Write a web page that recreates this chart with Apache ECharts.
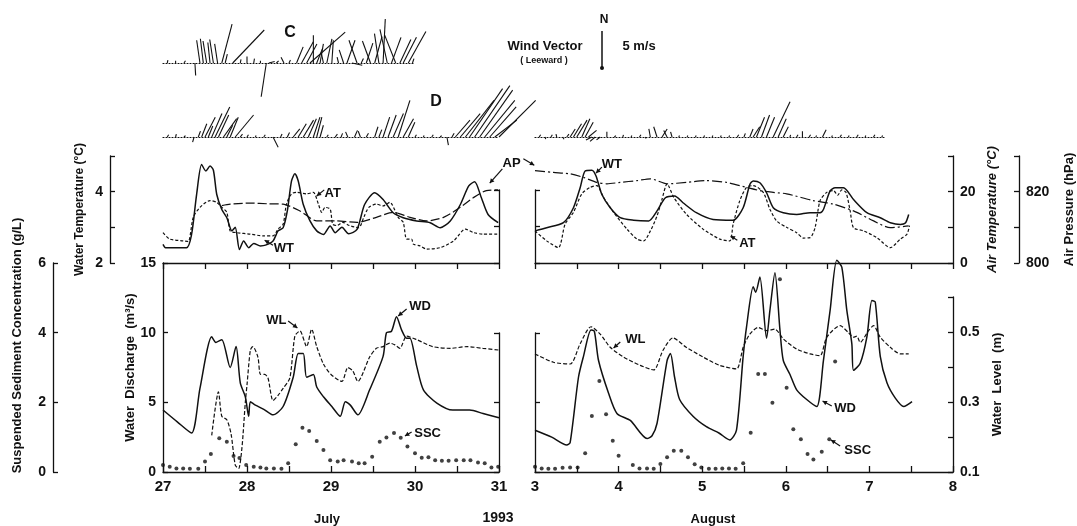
<!DOCTYPE html>
<html>
<head>
<meta charset="utf-8">
<script src="https://cdn.jsdelivr.net/npm/echarts@6/dist/echarts.min.js"></script>
<style>
  html, body { margin: 0; padding: 0; background: #fff; }
  #main { width: 1077px; height: 526px; }
</style>
</head>
<body>
<div id="main"></div>
<script>
// ---- values: [day, value] ----
// July 27-31 (top panel)
var wtJuly = [[27.0,2.52],[27.03,2.43],[27.28,2.43],[27.34,2.8],[27.40,3.92],[27.46,4.76],[27.51,4.58],[27.56,4.72],[27.60,4.6],[27.64,3.92],[27.70,3.5],[27.76,3.27],[27.82,2.9],[27.86,3.0],[27.91,2.38],[27.96,2.62],[28.02,2.43],[28.08,2.55],[28.16,2.48],[28.22,2.5],[28.31,2.62],[28.37,2.9],[28.43,2.99],[28.48,3.46],[28.53,4.3],[28.57,4.5],[28.61,4.3],[28.67,3.64],[28.75,3.18],[28.83,2.9],[28.91,2.8],[28.99,3.04],[29.05,2.85],[29.13,3.0],[29.21,2.82],[29.31,2.94],[29.40,3.64],[29.52,3.97],[29.62,3.78],[29.74,3.41],[29.86,3.27],[30.02,3.18],[30.18,3.13],[30.30,2.99],[30.42,3.18],[30.54,3.64],[30.64,4.16],[30.71,4.28],[30.79,3.83],[30.87,3.36],[30.99,3.13]];
var atJuly = [[27.0,8.5],[27.08,6.7],[27.24,6.2],[27.30,6.0],[27.36,12.8],[27.44,15.6],[27.56,17.5],[27.64,17.0],[27.70,15.6],[27.76,14.2],[27.80,9.0],[27.88,8.5],[28.04,8.1],[28.19,7.6],[28.31,7.6],[28.37,9.5],[28.43,10.9],[28.47,16.5],[28.53,19.4],[28.59,19.8],[28.71,19.4],[28.79,19.8],[28.85,16.5],[28.89,14.2],[28.93,15.6],[28.99,15.1],[29.02,10.9],[29.07,10.5],[29.14,11.4],[29.22,10.5],[29.33,9.9],[29.39,12.8],[29.45,15.6],[29.54,16.5],[29.62,16.0],[29.70,17.0],[29.80,12.8],[29.86,11.4],[29.90,6.7],[29.96,6.7],[29.98,5.3],[30.06,4.8],[30.14,3.9],[30.30,4.3],[30.46,6.2],[30.60,9.5],[30.70,8.5],[30.81,8.1],[30.99,8.1]];
var apJuly = [[27.70,816.1],[27.80,816.5],[28.04,816.8],[28.25,816.6],[28.43,816.5],[28.63,814.6],[28.83,811.8],[29.07,811.8],[29.31,811.4],[29.54,812.8],[29.74,814.2],[29.94,812.8],[30.14,811.8],[30.34,812.8],[30.54,815.6],[30.70,818.4],[30.85,820.3],[30.99,820.5]];
// August 3-8 (top panel)
var wtAug = [[3.0,2.9],[3.14,2.99],[3.34,3.13],[3.46,3.55],[3.54,4.11],[3.60,4.58],[3.68,4.6],[3.73,4.44],[3.80,3.92],[3.90,3.55],[4.02,3.27],[4.18,3.2],[4.36,3.18],[4.46,3.46],[4.56,3.83],[4.67,3.88],[4.77,3.69],[4.93,3.41],[5.13,3.22],[5.37,3.2],[5.49,3.55],[5.57,4.2],[5.61,4.3],[5.69,4.25],[5.77,3.97],[5.85,3.55],[5.97,3.41],[6.13,3.36],[6.29,3.41],[6.41,3.41],[6.45,3.5],[6.53,4.02],[6.59,4.11],[6.69,4.11],[6.81,3.78],[6.97,3.41],[7.13,3.27],[7.25,3.13],[7.37,3.08],[7.43,3.12],[7.47,3.36]];
var atAug = [[3.0,9.0],[3.14,6.2],[3.28,4.3],[3.36,10.9],[3.46,14.2],[3.56,19.4],[3.66,21.2],[3.74,21.7],[3.82,18.4],[3.94,14.2],[4.10,9.5],[4.22,6.7],[4.30,6.2],[4.38,9.0],[4.46,13.2],[4.52,17.9],[4.58,22.2],[4.66,18.4],[4.81,13.7],[5.01,9.5],[5.21,6.7],[5.33,6.2],[5.37,10.9],[5.45,17.5],[5.53,21.2],[5.61,21.7],[5.73,19.8],[5.81,15.1],[5.89,11.8],[6.01,10.0],[6.13,8.5],[6.21,7.0],[6.29,7.1],[6.35,9.9],[6.41,17.5],[6.49,19.8],[6.57,20.3],[6.62,19.0],[6.67,20.5],[6.72,19.8],[6.77,14.6],[6.81,9.9],[6.93,9.0],[7.09,7.1],[7.25,4.3],[7.37,6.7],[7.45,8.1],[7.48,10.5]];
var apAug = [[3.0,825.9],[3.22,825.4],[3.42,825.0],[3.58,824.0],[3.74,822.6],[3.86,822.2],[4.02,822.6],[4.22,823.1],[4.38,823.6],[4.58,822.2],[4.81,822.6],[5.05,823.1],[5.29,822.6],[5.53,821.2],[5.69,820.3],[5.85,819.8],[6.01,819.4],[6.33,817.5],[6.57,816.5],[6.81,814.6],[7.05,811.8],[7.25,809.9],[7.47,810.4]];
// bottom panel: water discharge (m3/s), water level (m), SSC (g/L)
var wdJuly = [[27.0,4.45],[27.17,3.6],[27.34,2.8],[27.44,6.0],[27.58,9.7],[27.63,9.3],[27.70,9.5],[27.80,7.5],[27.87,9.0],[27.92,6.4],[27.98,5.4],[28.02,4.0],[28.04,5.05],[28.10,4.8],[28.20,4.5],[28.31,4.1],[28.43,4.7],[28.55,6.8],[28.61,8.5],[28.67,8.5],[28.71,6.8],[28.79,7.0],[28.83,6.1],[28.91,5.4],[29.01,4.7],[29.11,4.0],[29.17,5.05],[29.23,4.8],[29.32,4.1],[29.46,5.9],[29.62,8.3],[29.66,10.0],[29.72,10.1],[29.78,11.15],[29.84,10.2],[29.90,9.6],[29.94,9.6],[30.02,7.6],[30.10,5.9],[30.26,4.95],[30.45,4.45],[30.65,4.45],[30.81,4.2],[31.0,3.9]];
var wlJuly = [[27.58,0.205],[27.66,0.33],[27.70,0.26],[27.76,0.25],[27.81,0.21],[27.86,0.12],[27.90,0.11],[27.94,0.17],[27.98,0.30],[28.00,0.35],[28.04,0.45],[28.07,0.46],[28.13,0.43],[28.16,0.38],[28.21,0.38],[28.25,0.37],[28.31,0.305],[28.37,0.32],[28.43,0.34],[28.51,0.37],[28.57,0.49],[28.63,0.505],[28.71,0.46],[28.77,0.51],[28.83,0.46],[28.91,0.41],[29.00,0.38],[29.13,0.36],[29.20,0.40],[29.26,0.39],[29.32,0.36],[29.46,0.43],[29.54,0.455],[29.62,0.46],[29.70,0.47],[29.76,0.465],[29.82,0.455],[29.90,0.49],[30.02,0.48],[30.21,0.46],[30.42,0.455],[30.62,0.46],[30.81,0.455],[31.0,0.45]];
var sscJuly = [[27.00,0.2],[27.08,0.15],[27.16,0.1],[27.24,0.1],[27.32,0.09],[27.42,0.09],[27.50,0.3],[27.57,0.52],[27.67,0.97],[27.76,0.87],[27.84,0.46],[27.91,0.4],[27.99,0.2],[28.08,0.15],[28.16,0.13],[28.23,0.1],[28.32,0.1],[28.41,0.09],[28.49,0.25],[28.58,0.8],[28.66,1.27],[28.74,1.18],[28.83,0.89],[28.91,0.63],[28.99,0.34],[29.08,0.3],[29.15,0.34],[29.25,0.3],[29.33,0.25],[29.40,0.25],[29.49,0.44],[29.58,0.87],[29.66,0.99],[29.75,1.12],[29.83,0.98],[29.91,0.73],[30.00,0.54],[30.08,0.41],[30.16,0.42],[30.24,0.34],[30.32,0.32],[30.40,0.32],[30.49,0.34],[30.58,0.34],[30.66,0.34],[30.75,0.27],[30.83,0.25],[30.91,0.13],[30.99,0.15]];
var wdAug = [[3.0,3.0],[3.2,2.5],[3.38,1.94],[3.42,2.1],[3.52,6.8],[3.58,8.3],[3.67,10.2],[3.71,10.1],[3.76,8.0],[3.88,5.65],[3.98,4.2],[4.14,3.7],[4.34,2.4],[4.40,2.6],[4.46,3.5],[4.58,8.0],[4.62,8.5],[4.67,6.8],[4.73,5.2],[4.89,4.0],[5.05,3.25],[5.20,2.8],[5.33,2.3],[5.41,3.0],[5.49,8.3],[5.53,10.4],[5.61,13.3],[5.64,12.9],[5.69,14.0],[5.77,9.6],[5.81,11.6],[5.87,14.3],[5.93,10.2],[5.97,8.0],[6.05,7.0],[6.13,5.9],[6.25,5.2],[6.37,4.7],[6.45,8.0],[6.53,11.6],[6.61,15.2],[6.67,14.7],[6.73,11.6],[6.79,9.2],[6.81,7.3],[6.89,7.8],[6.97,9.7],[7.03,12.3],[7.07,12.2],[7.13,8.3],[7.21,6.4],[7.31,5.3],[7.41,4.7],[7.51,5.05]];
var wlAug = [[3.0,0.439],[3.22,0.415],[3.42,0.41],[3.54,0.468],[3.67,0.517],[3.78,0.496],[3.90,0.458],[4.06,0.43],[4.26,0.406],[4.42,0.393],[4.53,0.449],[4.65,0.485],[4.81,0.458],[5.01,0.43],[5.21,0.406],[5.41,0.396],[5.49,0.458],[5.57,0.496],[5.67,0.515],[5.77,0.506],[5.87,0.51],[5.97,0.482],[6.13,0.453],[6.29,0.439],[6.41,0.434],[6.49,0.487],[6.65,0.52],[6.75,0.50],[6.81,0.487],[6.85,0.49],[6.89,0.472],[6.99,0.506],[7.05,0.52],[7.13,0.487],[7.25,0.458],[7.37,0.439],[7.47,0.439]];
var sscAug = [[3.00,0.15],[3.08,0.1],[3.16,0.09],[3.24,0.09],[3.33,0.12],[3.42,0.13],[3.51,0.13],[3.60,0.54],[3.68,1.61],[3.77,2.61],[3.85,1.66],[3.93,0.9],[4.00,0.47],[4.17,0.2],[4.25,0.1],[4.34,0.1],[4.42,0.09],[4.50,0.23],[4.58,0.42],[4.66,0.61],[4.75,0.61],[4.83,0.42],[4.91,0.22],[4.99,0.13],[5.08,0.09],[5.16,0.09],[5.24,0.1],[5.32,0.1],[5.40,0.09],[5.49,0.25],[5.58,1.13],[5.67,2.81],[5.75,2.81],[5.84,1.99],[5.93,5.53],[6.01,2.42],[6.09,1.23],[6.18,0.94],[6.26,0.52],[6.33,0.36],[6.43,0.58],[6.52,0.94],[6.59,3.17]];
// wind sticks, leeward: [day, u (east, m/s), v (north, m/s)]
var windC = [[27.05,0.1,0.4],[27.15,0,0.3],[27.25,0.2,0.3],[27.38,0.1,-1.7],[27.44,-0.45,3.1],[27.48,-0.4,3.3],[27.52,-0.5,3.0],[27.56,-0.3,2.8],[27.60,-0.5,3.2],[27.65,-0.4,2.6],[27.70,1.4,5.3],[27.74,0.3,1.2],[27.83,4.3,4.5],[27.92,0.1,0.5],[28.00,0,0.9],[28.08,0.1,0.6],[28.16,0,0.3],[28.23,-0.7,-4.6],[28.26,0.8,0.2],[28.35,0.3,0.3],[28.44,-0.4,0.8],[28.50,0.2,0.4],[28.59,0.9,2.2],[28.65,1.6,2.9],[28.71,1.4,2.6],[28.75,4.8,4.2],[28.79,0,3.8],[28.83,0.8,2.0],[28.87,0.45,2.6],[28.91,-0.3,1.4],[28.95,0.7,3.3],[29.01,0.2,3.1],[29.09,-0.2,0.8],[29.15,-0.6,1.8],[29.19,1.1,3.1],[29.25,1.4,-0.3],[29.31,-1.1,3.1],[29.36,0.3,0.6],[29.42,0.9,2.7],[29.47,-1.1,3.0],[29.52,1.0,3.6],[29.57,-0.6,4.0],[29.62,0.3,6.0],[29.67,-1.0,4.6],[29.72,1.3,3.5],[29.77,-1.5,3.8],[29.82,1.5,3.2],[29.86,1.8,3.5],[29.92,2.4,4.3],[29.97,0.2,0.6]];
var windDJuly = [[27.05,0.2,0.3],[27.15,0.1,0.4],[27.25,0.2,0.2],[27.37,-0.2,-0.7],[27.42,0.3,0.8],[27.46,0.7,1.8],[27.50,1.4,2.7],[27.54,0.6,1.5],[27.58,1.4,3.2],[27.62,2.0,4.1],[27.66,1.4,3.0],[27.72,1.8,2.5],[27.76,0.8,1.6],[27.80,1.1,2.7],[27.86,2.5,3.0],[27.92,0.3,0.4],[28.00,0.2,0.3],[28.10,0.1,0.2],[28.20,0.2,0.3],[28.31,0.7,-1.4],[28.40,0.2,0.4],[28.48,0.3,0.6],[28.55,0.9,1.1],[28.61,1.1,1.8],[28.67,1.4,2.3],[28.73,1.1,2.5],[28.79,0.9,2.7],[28.83,0.7,2.7],[28.87,0.45,1.6],[28.95,0.2,0.3],[29.05,0.3,0.4],[29.12,0.2,0.5],[29.20,-0.3,0.7],[29.28,0.4,0.9],[29.35,-0.3,0.8],[29.42,0.3,0.5],[29.52,0.45,1.4],[29.57,0.4,1.0],[29.62,0.9,2.7],[29.68,1.1,3.0],[29.74,1.4,3.2],[29.80,1.6,5.0],[29.86,1.4,2.5],[29.92,0.9,2.0],[30.00,0.2,0.3],[30.10,0.1,0.2],[30.20,0.2,0.3],[30.30,0.2,0.2],[30.38,0.2,-1.1],[30.44,0.3,0.5],[30.48,2.0,2.3],[30.54,2.7,3.2],[30.60,3.9,5.0],[30.65,4.5,6.6],[30.71,4.8,7.0],[30.77,4.5,6.4],[30.83,4.1,5.0],[30.89,3.6,4.1],[30.95,3.0,2.3],[31.0,5.0,5.0]];
var windDAug = [[3.05,0.2,0.3],[3.12,0.1,-0.3],[3.19,0.2,0.3],[3.26,-0.1,0.4],[3.33,0.2,-0.3],[3.38,0.3,0.4],[3.42,0.7,1.1],[3.46,1.1,1.8],[3.50,1.4,2.3],[3.56,1.1,2.5],[3.60,1.1,2.0],[3.64,1.1,0.9],[3.68,-0.8,-0.4],[3.72,-0.7,-0.6],[3.78,-0.5,-0.4],[3.86,0,0.7],[3.95,0.2,0.2],[4.05,0.1,0.3],[4.15,0.1,0.2],[4.25,0.2,0.3],[4.32,0.1,-0.2],[4.38,-0.2,1.1],[4.46,-0.45,1.4],[4.52,0.7,1.1],[4.58,-0.45,0.9],[4.64,-0.2,0.7],[4.72,0.1,0.2],[4.82,0.1,0.2],[4.92,0.1,0.2],[5.02,0.1,0.2],[5.12,0.1,0.2],[5.22,0.1,0.2],[5.32,0.1,0.2],[5.42,0.2,0.3],[5.50,0.2,0.5],[5.57,0.45,1.1],[5.61,0.9,1.4],[5.65,1.1,2.7],[5.71,1.1,3.0],[5.77,1.1,2.7],[5.85,2.3,4.8],[5.91,1.1,2.5],[5.97,0.7,1.4],[6.05,0.1,0.3],[6.13,0.2,0.3],[6.20,0,0.8],[6.28,0.2,0.3],[6.36,0.1,0.2],[6.44,0.5,1.0],[6.55,0.1,0.2],[6.65,0.2,0.3],[6.75,0.1,0.2],[6.85,0.2,0.3],[6.95,0.1,0.2],[7.05,0.2,0.3],[7.15,0.1,0.2]];
var windScale = [[0.5, 0, 5]];

// tick labels that are printed
var wtLabels = [2, 4];
var atLabels = [0, 20];
var apLabels = [800, 820];
var wlLabels = [0.1, 0.3, 0.5];

// curve labels: text, xAxis, yAxis, text at, arrow from, arrow to (data units)
var notes = [
    ['WT', 0, 0, [28.44, 2.42], [28.31, 2.50], [28.21, 2.64]],
    ['AT', 0, 0, [29.02, 3.96], [28.92, 4.05], [28.83, 3.88]],
    ['AP', 0, 0, [31.15, 4.80], [31.04, 4.64], [30.89, 4.24]],
    ['', 0, 0, [31.15, 4.80], [31.29, 4.92], [31.42, 4.74]],
    ['WT', 1, 5, [3.92, 4.75], [3.80, 4.69], [3.73, 4.52]],
    ['AT', 1, 5, [5.54, 2.56], [5.42, 2.64], [5.34, 2.76]],
    ['WL', 2, 6, [28.35, 10.9], [28.49, 10.84], [28.60, 10.34]],
    ['WD', 2, 6, [30.06, 11.85], [29.90, 11.7], [29.80, 11.2]],
    ['SSC', 2, 6, [30.15, 2.8], [29.96, 2.87], [29.88, 2.58]],
    ['WL', 3, 9, [4.20, 9.48], [4.02, 9.33], [3.94, 8.9]],
    ['WD', 3, 9, [6.71, 4.59], [6.55, 4.74], [6.44, 5.1]],
    ['SSC', 3, 9, [6.86, 1.58], [6.65, 1.87], [6.54, 2.3]]
];

var FONT = 'Liberation Sans, Arial, sans-serif';
var INK = '#111';

function pick(list, digits) {
    return function (v) {
        for (var i = 0; i < list.length; i++) {
            if (Math.abs(list[i] - v) < 1e-6) return digits ? v.toFixed(digits) : String(v);
        }
        return '';
    };
}

function hiddenY(grid, min, max) {
    return { type: 'value', gridIndex: grid, min: min, max: max, show: false, splitLine: { show: false } };
}

function hiddenX(grid, min, max) {
    return { type: 'value', gridIndex: grid, min: min, max: max, show: false, splitLine: { show: false } };
}

// an axis that is drawn
function drawnY(grid, min, max, interval, pos, offset, labels, digits) {
    return {
        type: 'value', gridIndex: grid, min: min, max: max, interval: interval,
        position: pos, offset: offset,
        axisLine: { show: true, onZero: false, lineStyle: { color: INK, width: 1.3 } },
        axisTick: { show: true, inside: true, length: 5, lineStyle: { color: INK, width: 1.3 } },
        axisLabel: { show: !!labels, color: INK, fontFamily: FONT, fontWeight: 'bold', fontSize: 14, margin: 7,
            formatter: labels ? pick(labels, digits) : '' },
        splitLine: { show: false }
    };
}

function nameIt(ax, name, gap, extra) {
    ax.name = name;
    ax.nameLocation = 'middle';
    ax.nameRotate = 90;
    ax.nameGap = gap;
    ax.nameTextStyle = { color: INK, fontFamily: FONT, fontWeight: 'bold', fontSize: 13 };
    for (var k in extra) ax.nameTextStyle[k] = extra[k];
    return ax;
}

function dayAxis(grid, min, max, labels, inside) {
    return {
        type: 'value', gridIndex: grid, min: min, max: max, interval: 0.5,
        axisLine: { show: true, onZero: false, lineStyle: { color: INK, width: 1.3 } },
        axisTick: { show: true, inside: inside, length: 6, lineStyle: { color: INK, width: 1.3 } },
        axisLabel: { show: labels, color: INK, fontFamily: FONT, fontWeight: 'bold', fontSize: 15, margin: 7,
            showMinLabel: true, showMaxLabel: true,
            formatter: function (v) { return v % 1 === 0 ? String(v) : ''; } },
        splitLine: { show: false }
    };
}

function windAxis(grid, min, max) {
    return {
        type: 'value', gridIndex: grid, min: min, max: max,
        axisLine: { show: true, onZero: true, lineStyle: { color: INK, width: 1.2, type: [1, 2] } },
        axisTick: { show: false }, axisLabel: { show: false }, splitLine: { show: false }
    };
}

function stick(params, api) {
    var base = api.coord([api.value(0), 0]);
    var unit = api.size([0, 1])[1];
    return {
        type: 'line',
        shape: { x1: base[0], y1: base[1], x2: base[0] + api.value(1) * unit, y2: base[1] - api.value(2) * unit },
        style: { stroke: INK, lineWidth: 1.1 }
    };
}

function scaleStick(params, api) {
    var base = api.coord([api.value(0), 0]);
    var unit = api.size([0, 1])[1];
    return {
        type: 'group', children: [
            { type: 'line', shape: { x1: base[0], y1: base[1], x2: base[0], y2: base[1] - api.value(2) * unit },
              style: { stroke: INK, lineWidth: 1.5 } },
            { type: 'circle', shape: { cx: base[0], cy: base[1], r: 2 }, style: { fill: INK } }
        ]
    };
}

function curve(data, xi, yi, dash, width) {
    return {
        type: 'line', data: data, xAxisIndex: xi, yAxisIndex: yi, showSymbol: false, symbol: 'none',
        smooth: 0.25, clip: false, silent: true,
        lineStyle: { color: INK, width: width || 1.4, type: dash || 'solid' }
    };
}

function dots(data, xi, yi) {
    return {
        type: 'scatter', data: data, xAxisIndex: xi, yAxisIndex: yi, symbolSize: 4, silent: true,
        itemStyle: { color: INK }
    };
}

var chart = echarts.init(document.getElementById('main'));

var option = {
    animation: false,
    backgroundColor: '#fff',
    textStyle: { fontFamily: FONT },
    grid: [
        { left: 163, top: 156, width: 336, height: 107 },  // 0 temperature, July
        { left: 535, top: 156, width: 418, height: 107 },  // 1 temperature, August
        { left: 163, top: 263, width: 336, height: 209 },  // 2 discharge, July
        { left: 535, top: 263, width: 418, height: 209 },  // 3 discharge, August
        { left: 163, top: 190, width: 336, height: 73 },   // 4 short right edge, July top
        { left: 535, top: 190, width: 418, height: 73 },   // 5 short left edge, August top
        { left: 163, top: 333, width: 336, height: 139 },  // 6 short right edge, July bottom
        { left: 535, top: 333, width: 418, height: 139 },  // 7 short left edge, August bottom
        { left: 535, top: 297, width: 418, height: 175 },  // 8 water level axis
        { left: 163, top: 19, width: 252, height: 88 },    // 9 wind C
        { left: 163, top: 93, width: 336, height: 88 },    // 10 wind D July
        { left: 535, top: 93, width: 351, height: 88 },    // 11 wind D August
        { left: 597, top: 31, width: 10, height: 37 }      // 12 wind scale
    ],
    xAxis: [
        dayAxis(0, 27, 31, false, false),
        dayAxis(1, 3, 8, false, false),
        dayAxis(2, 27, 31, true, true),
        dayAxis(3, 3, 8, true, true),
        hiddenX(4, 27, 31),
        hiddenX(5, 3, 8),
        hiddenX(6, 27, 31),
        hiddenX(7, 3, 8),
        hiddenX(8, 3, 8),
        windAxis(9, 27, 30),
        windAxis(10, 27, 31),
        windAxis(11, 3, 7.2),
        hiddenX(12, 0, 1)
    ],
    yAxis: [
        nameIt(drawnY(0, 2, 5, 1, 'left', 53, wtLabels), 'Water Temperature (°C)', 24, { fontSize: 12 }),  // 0
        hiddenY(0, 0, 30),       // 1 AT July
        hiddenY(0, 800, 830),    // 2 AP July
        nameIt(drawnY(1, 0, 30, 10, 'right', 0, atLabels), 'Air Temperature (°C)', 33, { fontStyle: 'italic' }), // 3
        nameIt(drawnY(1, 800, 830, 10, 'right', 66, apLabels), 'Air Pressure (hPa)', 44), // 4
        hiddenY(1, 2, 5),        // 5 WT August
        nameIt(drawnY(2, 0, 15, 5, 'left', 0, [0, 5, 10, 15]), 'Water  Discharge  (m³/s)', 26), // 6
        nameIt(drawnY(2, 0, 6, 2, 'left', 110, [0, 2, 4, 6]), 'Suspended Sediment Concentration (g/L)', 29, { padding: [0, 0, 0, 44] }), // 7
        hiddenY(2, 0.1, 0.7),    // 8 WL July
        hiddenY(3, 0, 15),       // 9 WD August
        hiddenY(3, 0, 6),        // 10 SSC August
        hiddenY(3, 0.1, 0.7),    // 11 WL August
        drawnY(4, 2, 4, 1, 'right', 0, null),   // 12
        drawnY(5, 2, 4, 1, 'left', 0, null),    // 13
        drawnY(6, 0, 10, 5, 'right', 0, null),  // 14
        drawnY(7, 0, 10, 5, 'left', 0, null),   // 15
        nameIt(drawnY(8, 0.1, 0.6, 0.1, 'right', 0, wlLabels, 1), 'Water  Level  (m)', 38), // 16
        hiddenY(9, -6, 6),       // 17
        hiddenY(10, -6, 6),      // 18
        hiddenY(11, -6, 6),      // 19
        hiddenY(12, 0, 5)        // 20
    ],
    series: [
        curve(wtJuly, 0, 0, 'solid', 1.5),
        curve(atJuly, 0, 1, [3, 2], 1.2),
        curve(apJuly, 0, 2, [9, 3], 1.2),
        curve(wtAug, 1, 5, 'solid', 1.5),
        curve(atAug, 1, 3, [3, 2], 1.2),
        curve(apAug, 1, 4, [10, 3, 2, 3], 1.2),
        curve(wdJuly, 2, 6, 'solid', 1.5),
        curve(wlJuly, 2, 8, [4, 2], 1.2),
        dots(sscJuly, 2, 7),
        curve(wdAug, 3, 9, 'solid', 1.5),
        curve(wlAug, 3, 11, [4, 2], 1.2),
        dots(sscAug, 3, 10),
        { type: 'custom', xAxisIndex: 9, yAxisIndex: 17, data: windC, renderItem: stick, silent: true },
        { type: 'custom', xAxisIndex: 10, yAxisIndex: 18, data: windDJuly, renderItem: stick, silent: true },
        { type: 'custom', xAxisIndex: 11, yAxisIndex: 19, data: windDAug, renderItem: stick, silent: true },
        { type: 'custom', xAxisIndex: 12, yAxisIndex: 20, data: windScale, renderItem: scaleStick, silent: true }
    ]
};
chart.setOption(option);

// text in the figure that is not tied to the data
function label(text, x, y, size, extra) {
    var st = { text: text, fill: INK, font: 'bold ' + size + 'px ' + FONT,
        textAlign: 'center', align: 'center', textVerticalAlign: 'middle', verticalAlign: 'middle' };
    for (var k in extra) st[k] = extra[k];
    return { type: 'text', x: x, y: y, silent: true, style: st };
}

var gfx = [
    label('July', 327, 519, 13),
    label('1993', 498, 518, 14),
    label('August', 713, 519, 13),
    label('C', 290, 33, 16),
    label('D', 436, 102, 16),
    label('N', 604, 20, 12),
    label('5 m/s', 639, 46, 13),
    label('Wind Vector', 545, 46, 13),
    label('( Leeward )', 544, 61, 9)
];

// curve names with their small arrows, placed through the axes
notes.forEach(function (n) {
    var f = { xAxisIndex: n[1], yAxisIndex: n[2] };
    var t = chart.convertToPixel(f, n[3]);
    var a = chart.convertToPixel(f, n[4]);
    var b = chart.convertToPixel(f, n[5]);
    if (n[0]) gfx.push(label(n[0], t[0], t[1], 13));
    gfx.push({ type: 'line', silent: true, shape: { x1: a[0], y1: a[1], x2: b[0], y2: b[1] },
        style: { stroke: INK, lineWidth: 1.2 } });
    var ang = Math.atan2(b[1] - a[1], b[0] - a[0]), L = 5;
    gfx.push({ type: 'polygon', silent: true, shape: { points: [
        [b[0], b[1]],
        [b[0] - L * Math.cos(ang - 0.5), b[1] - L * Math.sin(ang - 0.5)],
        [b[0] - L * Math.cos(ang + 0.5), b[1] - L * Math.sin(ang + 0.5)]
    ] }, style: { fill: INK } });
});

chart.setOption({ graphic: gfx });
</script>
</body>
</html>
